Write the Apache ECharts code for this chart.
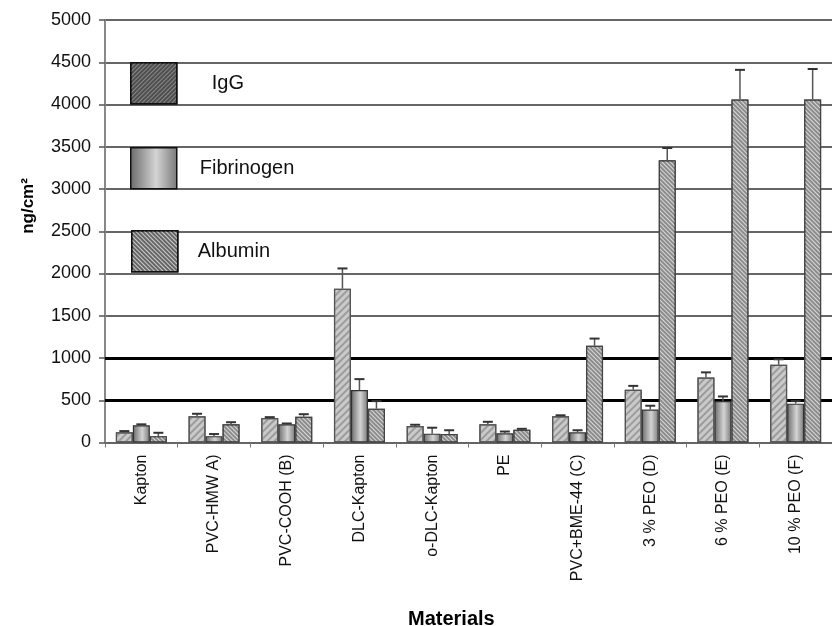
<!DOCTYPE html>
<html>
<head>
<meta charset="utf-8">
<script src="https://cdn.jsdelivr.net/npm/echarts@6/dist/echarts.min.js"></script>
<style>html,body{margin:0;padding:0;background:#fff}#c{width:832px;height:626px}</style>
</head>
<body>
<div id="c"></div>
<script>
const categories = ['Kapton','PVC-HMW A)','PVC-COOH (B)','DLC-Kapton','o-DLC-Kapton','PE','PVC+BME-44 (C)','3 % PEO (D)','6 % PEO (E)','10 % PEO (F)'];
const seriesNames = ['IgG','Fibrinogen','Albumin'];
const igg = [120, 310, 290, 1820, 195, 215, 310, 625, 770, 920];
const iggErr = [15, 30, 10, 240, 15, 30, 12, 45, 60, 65];
const fibrinogen = [205, 75, 215, 620, 105, 110, 120, 390, 490, 460];
const fibrinogenErr = [10, 25, 10, 130, 70, 20, 25, 45, 55, 30];
const albumin = [75, 215, 305, 400, 100, 150, 1145, 3340, 4060, 4060];
const albuminErr = [40, 25, 30, 90, 45, 12, 85, 145, 350, 360];
const yTicks = {min: 0, max: 5000, interval: 500};

const FONT = 'Liberation Sans, Arial, sans-serif';
const BARW = 17;

const fill1 = {color: '#cacaca', decal: {symbol: 'rect', symbolSize: 1, dashArrayX: [1, 0], dashArrayY: [2, 3], rotation: -Math.PI / 4, color: 'rgba(140,140,140,0.75)'}};
const fill2 = {color: {type: 'linear', x: 0, y: 0, x2: 1, y2: 0, colorStops: [{offset: 0, color: '#6a6a6a'}, {offset: 0.55, color: '#d4d4d4'}, {offset: 1, color: '#777'}]}};
const fill3 = {color: '#8c8c8c', decal: {symbol: 'rect', symbolSize: 1, dashArrayX: [1, 0], dashArrayY: [1, 2], rotation: Math.PI / 4, color: 'rgba(235,235,235,0.8)'}};

function errSeries(vals, errs, idx) {
  return {
    type: 'custom',
    silent: true,
    z: 3,
    data: vals.map((v, i) => [i, v, errs[i]]),
    renderItem: function (params, api) {
      const base = api.coord([api.value(0), api.value(1)]);
      const top = api.coord([api.value(0), api.value(1) + api.value(2)]);
      const x = base[0] + (idx - 1) * BARW;
      return {
        type: 'group',
        children: [
          {type: 'line', shape: {x1: x, y1: base[1], x2: x, y2: top[1]}, style: {stroke: '#555', lineWidth: 1.5}},
          {type: 'line', shape: {x1: x - 5, y1: top[1], x2: x + 5, y2: top[1]}, style: {stroke: '#333', lineWidth: 2}}
        ]
      };
    }
  };
}

function legendBox(name, top, left, pad, style) {
  return {
    left: left, top: top, orient: 'vertical', icon: 'rect', padding: 0,
    itemWidth: 46, itemHeight: 41, selectedMode: false,
    data: [{name: name, itemStyle: Object.assign({borderColor: '#111', borderWidth: 1.5}, style)}],
    textStyle: {fontFamily: FONT, fontSize: 20, color: '#111', padding: [0, 0, 0, pad]}
  };
}

const chart = echarts.init(document.getElementById('c'));
chart.setOption({
  animation: false,
  backgroundColor: '#fff',
  grid: {left: 105, top: 20, width: 736, height: 422.5, containLabel: false},
  legend: [
    legendBox('IgG', 62, 130, 30, {color: '#4e4e4e', decal: {symbol: 'rect', symbolSize: 1, dashArrayX: [1, 0], dashArrayY: [1, 2], rotation: -Math.PI / 4, color: 'rgba(150,150,150,0.8)'}}),
    legendBox('Fibrinogen', 147, 130, 18, fill2),
    legendBox('Albumin', 230, 131, 15, {color: '#666', decal: {symbol: 'rect', symbolSize: 1, dashArrayX: [1, 0], dashArrayY: [1, 2], rotation: Math.PI / 4, color: 'rgba(215,215,215,0.9)'}})
  ],
  graphic: [
    {type: 'text', x: 28, y: 206, rotation: Math.PI / 2, style: {text: 'ng/cm²', font: 'bold 17px ' + FONT, fill: '#000', textAlign: 'center', textVerticalAlign: 'middle'}}
  ],
  title: {text: 'Materials', left: 403, top: 604, textStyle: {fontFamily: FONT, fontSize: 20, fontWeight: 'bold', color: '#000'}},
  xAxis: {
    type: 'category',
    data: categories,
    axisLine: {lineStyle: {color: '#666', width: 1.5}},
    axisTick: {show: true, length: 5, lineStyle: {color: '#777'}},
    axisLabel: {rotate: 90, margin: 12, fontFamily: FONT, fontSize: 16, color: '#111', interval: 0}
  },
  yAxis: {
    type: 'value',
    min: yTicks.min, max: yTicks.max, interval: yTicks.interval,
    axisLine: {show: true, lineStyle: {color: '#888', width: 2}},
    axisTick: {show: true, length: 6, lineStyle: {color: '#555', width: 1.5}},
    axisLabel: {margin: 14, fontFamily: FONT, fontSize: 18, color: '#111', formatter: function (v) { return String(v); }},
    splitLine: {lineStyle: {color: '#333', width: 1.5}}
  },
  series: [
    {name: seriesNames[0], type: 'bar', data: igg, barWidth: BARW, barGap: '0%', z: 2,
     itemStyle: Object.assign({borderColor: '#555', borderWidth: 1.2}, fill1),
     markLine: {silent: true, symbol: 'none', z: 1, label: {show: false},
       lineStyle: {color: '#000', width: 3, type: 'solid'},
       data: [{yAxis: 500}, {yAxis: 1000}]}},
    {name: seriesNames[1], type: 'bar', data: fibrinogen, barWidth: BARW, barGap: '0%', z: 2,
     itemStyle: Object.assign({borderColor: '#333', borderWidth: 1.2}, fill2)},
    {name: seriesNames[2], type: 'bar', data: albumin, barWidth: BARW, barGap: '0%', z: 2,
     itemStyle: Object.assign({borderColor: '#444', borderWidth: 1.2}, fill3)},
    errSeries(igg, iggErr, 0),
    errSeries(fibrinogen, fibrinogenErr, 1),
    errSeries(albumin, albuminErr, 2)
  ]
});
</script>
</body>
</html>
